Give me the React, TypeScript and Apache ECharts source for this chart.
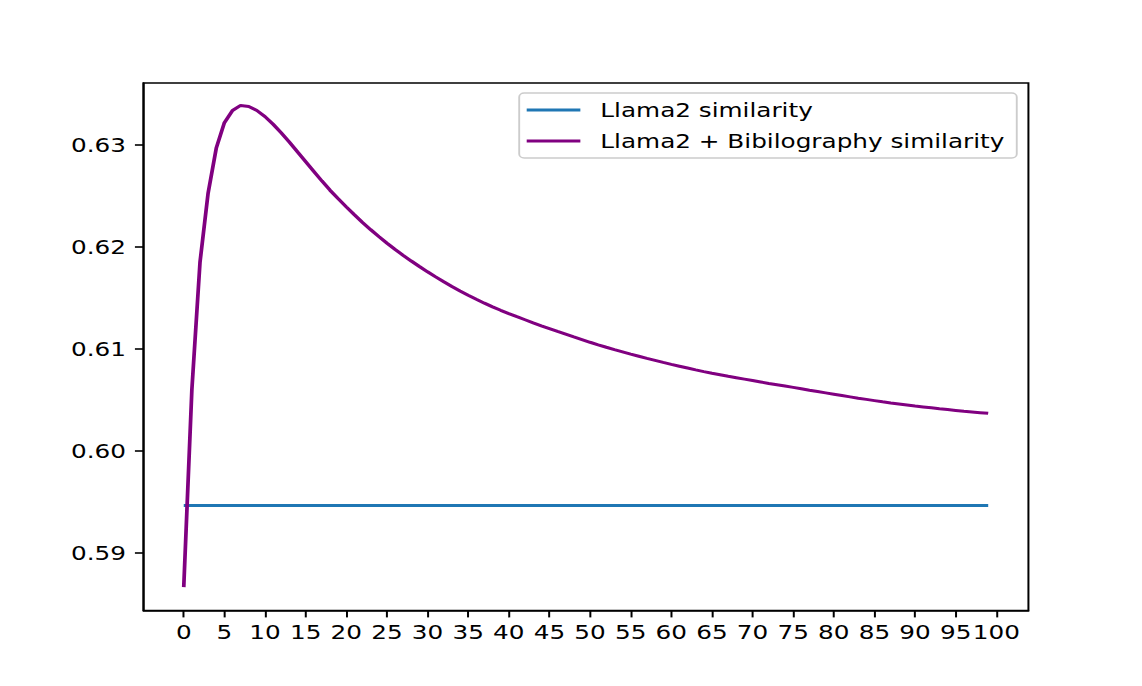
import React, { useEffect, useRef } from "react";
import * as echarts from "echarts";

// Tick labels
const xTickValues = [0, 5, 10, 15, 20, 25, 30, 35, 40, 45, 50, 55, 60, 65, 70, 75, 80, 85, 90, 95, 100];
const yTickValues = [0.59, 0.6, 0.61, 0.62, 0.63];

// Series names
const seriesNames = ["Llama2 similarity", "Llama2 + Bibilography similarity"];

// Llama2 similarity (constant over all steps)
const llamaSimilarity = 0.5946;

// Llama2 + Bibilography similarity, steps 0..99
const combinedSimilarity = [
  0.58660, 0.60600, 0.61850, 0.62530, 0.62970, 0.63220, 0.63340, 0.63390, 0.63380, 0.63340,
  0.63280, 0.63205, 0.63120, 0.63030, 0.62933, 0.62838, 0.62743, 0.62648, 0.62557, 0.62474,
  0.62394, 0.62316, 0.62240, 0.62170, 0.62103, 0.62038, 0.61976, 0.61918, 0.61862, 0.61808,
  0.61756, 0.61706, 0.61658, 0.61612, 0.61568, 0.61526, 0.61486, 0.61448, 0.61412, 0.61378,
  0.61346, 0.61315, 0.61285, 0.61255, 0.61226, 0.61198, 0.61170, 0.61143, 0.61116, 0.61090,
  0.61064, 0.61039, 0.61015, 0.60992, 0.60970, 0.60948, 0.60927, 0.60906, 0.60886, 0.60866,
  0.60847, 0.60829, 0.60811, 0.60793, 0.60776, 0.60760, 0.60745, 0.60730, 0.60716, 0.60702,
  0.60688, 0.60674, 0.60660, 0.60647, 0.60634, 0.60621, 0.60607, 0.60593, 0.60580, 0.60567,
  0.60554, 0.60541, 0.60528, 0.60515, 0.60503, 0.60491, 0.60479, 0.60468, 0.60458, 0.60448,
  0.60438, 0.60429, 0.60420, 0.60411, 0.60403, 0.60395, 0.60387, 0.60380, 0.60373, 0.60366,
];

const FONT = "DejaVu Sans";
const FS = 19.8;

export default function App() {
  const ref = useRef<HTMLDivElement>(null);

  useEffect(() => {
    if (!ref.current) return;
    const chart = echarts.init(ref.current, undefined, { renderer: "svg" });
    const steps = combinedSimilarity.map((_, i) => i);
    const option = {
      animation: false,
      backgroundColor: "#ffffff",
      textStyle: { fontFamily: FONT, color: "#000" },
      grid: {
        left: 115,
        right: 91,
        top: 83,
        bottom: 75.5,
        show: true,
        borderColor: "#000",
        borderWidth: 1.6,
        backgroundColor: "#fff",
        containLabel: false,
      },
      legend: {
        data: seriesNames,
        orient: "vertical",
        left: 416,
        top: 93,
        icon: "rect",
        itemWidth: 43,
        itemHeight: 3,
        itemGap: 9,
        itemStyle: { borderWidth: 0 },
        padding: [6, 10, 6, 6],
        backgroundColor: "rgba(255,255,255,0.8)",
        borderColor: "#cccccc",
        borderWidth: 1.5,
        borderRadius: 4,
        textStyle: {
          fontFamily: FONT,
          fontSize: FS,
          color: "#000",
          lineHeight: 22,
          padding: [0, 0, 0, 11],
        },
      },
      xAxis: {
        type: "value",
        min: -4.95,
        max: 103.95,
        splitLine: { show: false },
        axisLine: { show: true, onZero: false, lineStyle: { color: "#000", width: 1.6 } },
        axisTick: {
          show: true,
          customValues: xTickValues,
          length: 6.9,
          inside: false,
          lineStyle: { color: "#000", width: 1.6 },
        },
        axisLabel: {
          customValues: xTickValues,
          fontFamily: FONT,
          fontSize: FS,
          color: "#000",
          margin: 11,
          formatter: (v: number) => String(Math.round(v)),
        },
      },
      yAxis: {
        type: "value",
        min: 0.5843,
        max: 0.6361,
        splitLine: { show: false },
        axisLine: { show: true, onZero: false, lineStyle: { color: "#000", width: 1.6 } },
        axisTick: {
          show: true,
          customValues: yTickValues,
          length: 6.9,
          inside: false,
          lineStyle: { color: "#000", width: 1.6 },
        },
        axisLabel: {
          customValues: yTickValues,
          fontFamily: FONT,
          fontSize: FS,
          color: "#000",
          margin: 14,
          formatter: (v: number) => v.toFixed(2),
        },
      },
      series: [
        {
          name: seriesNames[0],
          type: "line",
          symbol: "none",
          color: "#1f77b4",
          lineStyle: { color: "#1f77b4", width: 3 },
          data: steps.map((x) => [x, llamaSimilarity]),
          z: 2,
        },
        {
          name: seriesNames[1],
          type: "line",
          symbol: "none",
          color: "#800080",
          lineStyle: { color: "#800080", width: 3 },
          data: steps.map((x) => [x, combinedSimilarity[x]]),
          z: 3,
        },
      ],
    };
    chart.setOption(option as any);
    return () => chart.dispose();
  }, []);

  return (
    <div
      style={{
        position: "absolute",
        left: 0,
        top: 0,
        width: 1142,
        height: 686,
        overflow: "hidden",
        background: "#fff",
      }}
    >
      <div
        ref={ref}
        style={{
          width: 915,
          height: 686,
          transform: "scaleX(1.24809)",
          transformOrigin: "0 0",
        }}
      />
    </div>
  );
}
